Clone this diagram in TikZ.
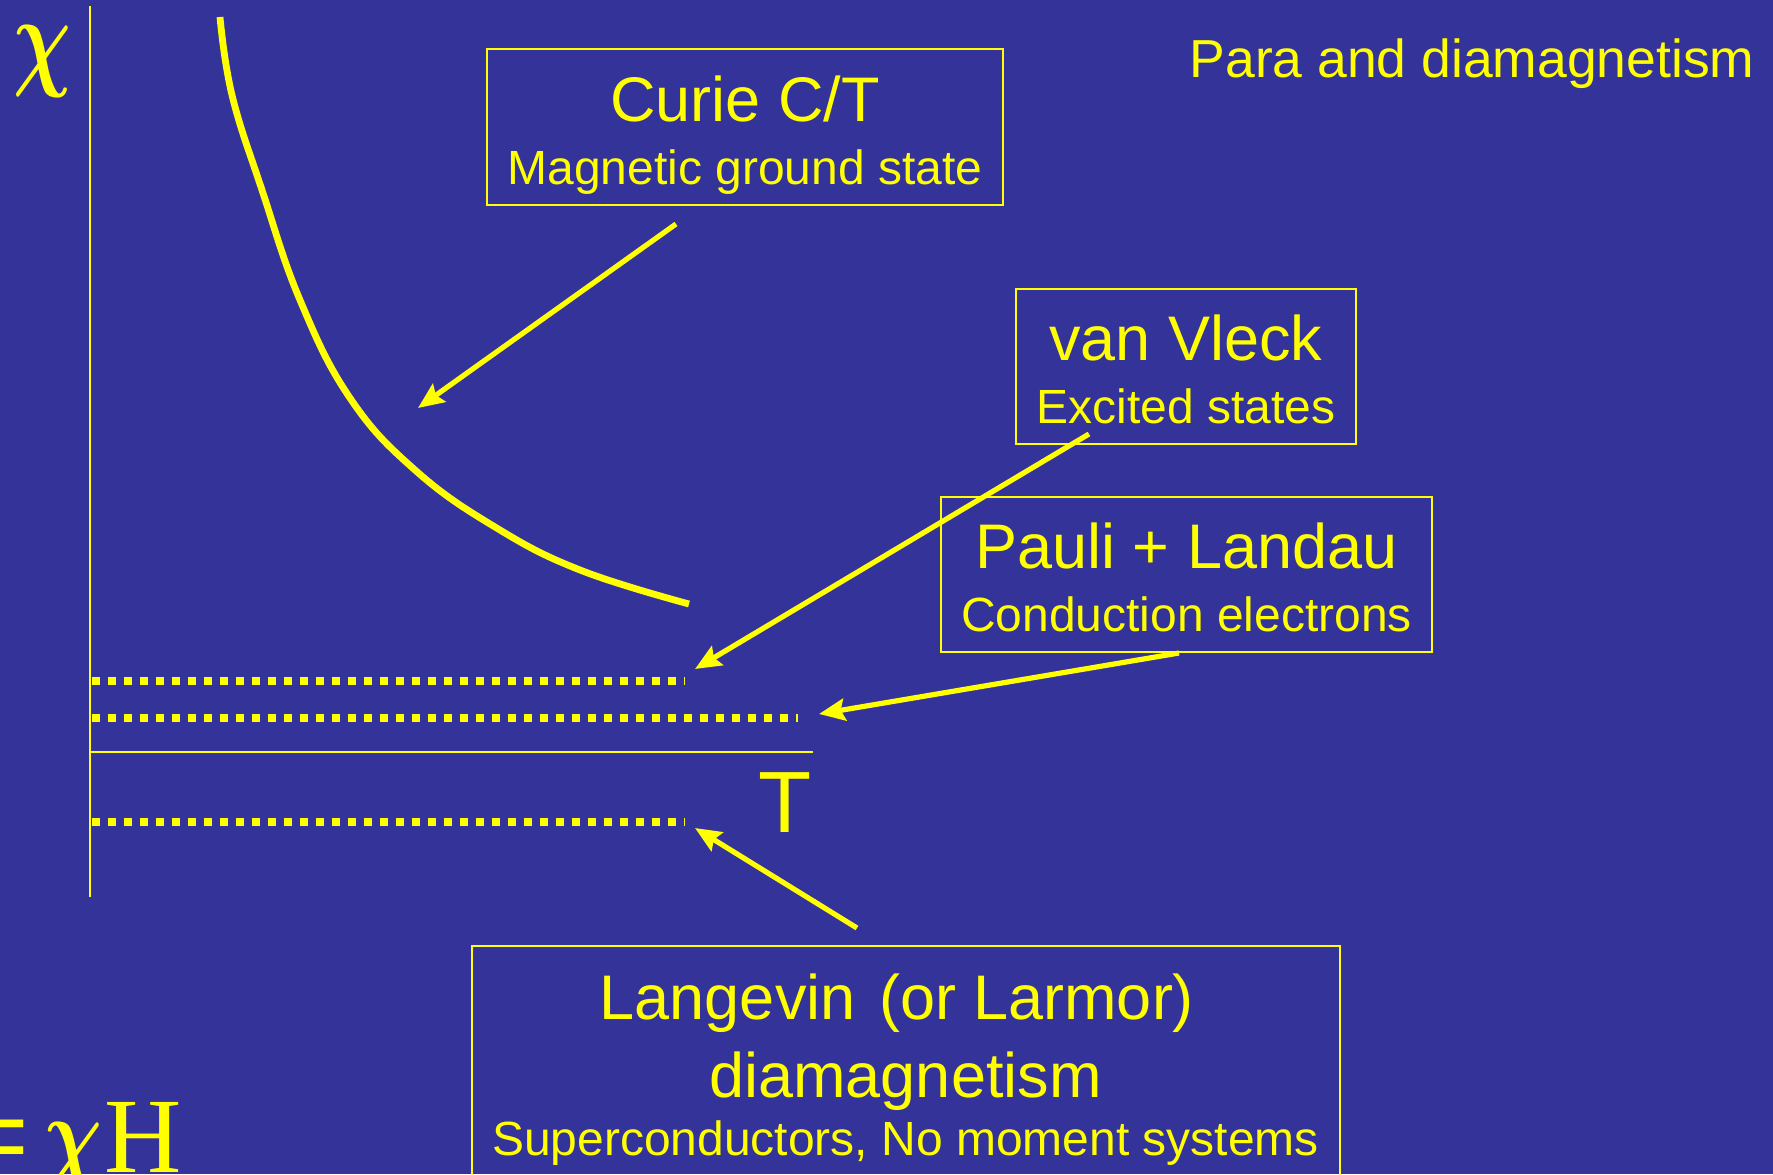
\RequirePackage{fix-cm}
\documentclass[tikz,border=0pt]{standalone}
\usepackage{fontspec}
\setmainfont{Liberation Sans}
\newfontfamily\timesfont{Liberation Serif}
\usetikzlibrary{arrows.meta}
\definecolor{slideblue}{RGB}{51,51,153}
\definecolor{slideyellow}{RGB}{255,255,0}
\newcommand{\bigtext}{\fontsize{31.5}{31.5}\selectfont}
\newcommand{\smalltext}{\fontsize{24}{24}\selectfont}
\newcommand{\narrowchi}{\scalebox{0.72}[1]{\boldmath$\chi$}}

\begin{document}
\begin{tikzpicture}[x=0.5pt,y=-0.5pt,
    every node/.style={text=slideyellow,inner sep=0pt},
    labelbox/.style={draw=slideyellow,line width=1pt,align=center,font=\bigtext},
    pointer/.style={draw=slideyellow,line width=2.6pt,-{Stealth[length=13pt,width=11pt,inset=2pt]}},
    levelline/.style={draw=slideyellow,line width=4pt,dash pattern=on 4pt off 4pt},
    axisline/.style={draw=slideyellow,line width=0.8pt}]
  \fill[slideblue] (0,0) rectangle (1773,1174);
  \useasboundingbox (0,0) rectangle (1773,1174);
  \draw[axisline] (90,6) -- (90,897);
  \draw[axisline] (90,752) -- (813,752);
  \draw[levelline] (92,681) -- (685,681);
  \draw[levelline] (92,718) -- (798,718);
  \draw[levelline] (92,822) -- (685,822);
  \draw[slideyellow,line width=3.4pt] plot[smooth,tension=0.7] coordinates
    {(220,17) (232,95) (262,190) (300,300) (350,398) (415,470) (495,527)
     (580,570) (689,604)};
  \node[font=\fontsize{56}{56}\selectfont] (chilabel) at (42,61) {\narrowchi};
  \node[font=\fontsize{43.5}{43.5}\selectfont,anchor=base] (tlabel) at (785,832) {T};
  \node[font=\fontsize{26.75}{26.75}\selectfont,anchor=base east] (title) at (1755,77) {Para and diamagnetism};
  \node[font=\fontsize{53.5}{53.5}\selectfont\timesfont,anchor=base east] (eqn) at (182,1172)
    {{\rmfamily =}\hspace{7.5pt}{\fontsize{56}{56}\selectfont\narrowchi}\hspace{1pt}H};
  \node[labelbox,minimum width=258pt] (curie) at (745,127)
    {\rule{0pt}{36pt}Curie C/T\\{\smalltext\rule[-10.5pt]{0pt}{10.5pt}Magnetic ground state}};
  \node[labelbox,minimum width=170pt] (vleck) at (1186,366.5)
    {\rule{0pt}{35.75pt}van Vleck\\{\smalltext\rule[-10.25pt]{0pt}{10.25pt}Excited states}};
  \node[labelbox,minimum width=245.5pt] (pauli) at (1186.5,574.5)
    {\rule{0pt}{35.75pt}Pauli + Landau\\{\smalltext\rule[-10.25pt]{0pt}{10.25pt}Conduction electrons}};
  \node[labelbox,minimum width=434pt,anchor=north] (langevin) at (905.5,945)
    {\rule{0pt}{36.5pt}Langevin\hspace{3pt} (or Larmor)\hspace{8.5pt}\mbox{}\\[7.5pt]diamagnetism\\[-2.5pt]{\smalltext\rule[-25.5pt]{0pt}{25.5pt}Superconductors, No moment systems}};
  \coordinate (curietip) at (418,408);
  \coordinate (vlecktip) at (695,669);
  \coordinate (paulitip) at (819,714);
  \coordinate (langevintip) at (695,828);
  \draw[pointer] ([shift={(-69,18)}]curie.south) -- (curietip);
  \draw[pointer] ([shift={(-97,-11)}]vleck.south) -- (vlecktip);
  \draw[pointer] ([shift={(-7.5,0)}]pauli.south) -- (paulitip);
  \draw[pointer] ([shift={(-48.5,-17)}]langevin.north) -- (langevintip);
\end{tikzpicture}
\end{document}
